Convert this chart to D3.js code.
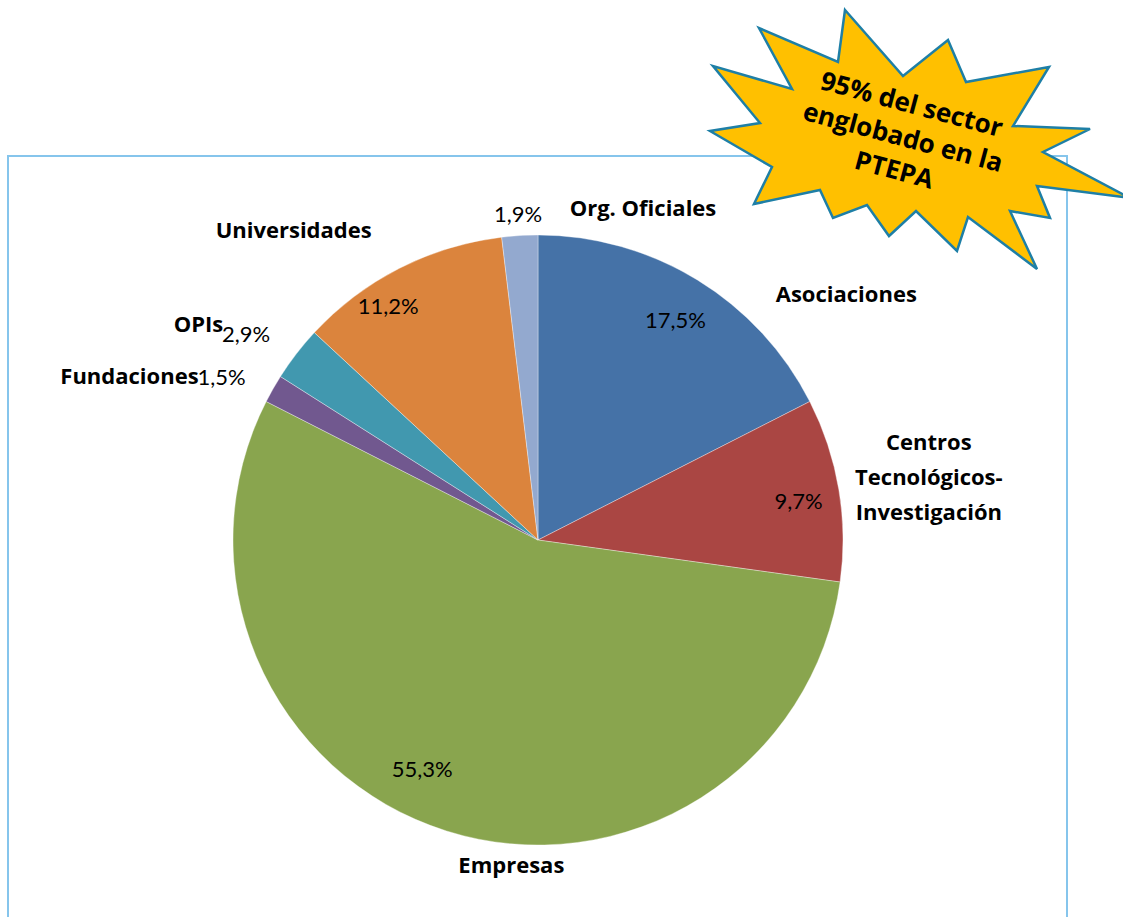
<!DOCTYPE html>
<html>
  <head>
    <meta charset="utf-8">
    <script src="https://cdn.jsdelivr.net/npm/d3@7/dist/d3.min.js"></script>
    <style>
      body { margin: 0; background: #fff; }
      text { font-family: Lato, "Open Sans", sans-serif; }
      text.name, text.star { font-family: "Open Sans", Lato, sans-serif; }
    </style>
  </head>
  <body>
    <svg id="chart" width="1123" height="917"></svg>
    <script>
      // data
      var categories = ["Asociaciones", "Centros Tecnológicos-Investigación", "Empresas",
                        "Fundaciones", "OPIs", "Universidades", "Org. Oficiales"];
      var values = [17.5, 9.7, 55.3, 1.5, 2.9, 11.2, 1.9];
      var nameLines = [["Asociaciones"], ["Centros", "Tecnológicos-", "Investigación"], ["Empresas"],
                       ["Fundaciones"], ["OPIs"], ["Universidades"], ["Org. Oficiales"]];
      var colors = ["#4572A7", "#AA4643", "#89A54E", "#71588F", "#4198AF", "#DB843D", "#93A9CF"];
      var starLines = ["95% del sector", "englobado en la", "PTEPA"];

      // label placement (Excel-like), nudges from the arc anchors
      var pctInside = [true, true, true, false, false, true, false];
      var pctNudge = [[2, 1], [5, 4], [-38, -18], [-25, 4], [-26, -1], [-32, -3], [0, 9]];
      var nameNudge = [[133, 40], [60, -7], [74, 5], [-48, 3], [-49, -11], [-92, -11], [125, 3]];
      var nameAnchor = ["middle", "middle", "middle", "end", "end", "middle", "middle"];

      var svg = d3.select("#chart");
      var cx = 538, cy = 540, R = 305;

      var data = categories.map((c, i) => ({name: c, value: values[i], i: i}));
      var color = d3.scaleOrdinal().domain(categories).range(colors);

      var pie = d3.pie().sort(null).value(d => d.value);
      var arcs = pie(data);
      var arc = d3.arc().innerRadius(0).outerRadius(R);
      var inArc = d3.arc().innerRadius(R * 0.85).outerRadius(R * 0.85);
      var outArc = d3.arc().innerRadius(R * 1.1).outerRadius(R * 1.1);

      // chart area border
      svg.append("rect")
        .attr("x", 8).attr("y", 156).attr("width", 1059).attr("height", 800)
        .attr("fill", "none").attr("stroke", "#86C5EC").attr("stroke-width", 2);

      var g = svg.append("g").attr("transform", `translate(${cx},${cy})`);

      g.selectAll("path.slice").data(arcs).enter().append("path")
        .attr("class", "slice")
        .attr("d", arc)
        .attr("fill", d => color(d.data.name))
        .attr("stroke", "#ffffff").attr("stroke-opacity", 0.5).attr("stroke-width", 0.7);

      // percentage labels
      g.selectAll("text.pct").data(arcs).enter().append("text")
        .attr("class", "pct")
        .attr("transform", d => {
          var p = (pctInside[d.data.i] ? inArc : outArc).centroid(d);
          var n = pctNudge[d.data.i];
          return `translate(${p[0] + n[0]},${p[1] + n[1]})`;
        })
        .attr("text-anchor", d => nameAnchor[d.data.i] == "end" ? "start" : "middle")
        .attr("dx", d => nameAnchor[d.data.i] == "end" ? "-1.1em" : 0)
        .attr("dy", "0.35em")
        .attr("font-size", 22)
        .attr("fill", "#000")
        .text(d => d3.format(".1f")(d.data.value).replace(".", ",") + "%");

      // category labels
      var names = g.selectAll("text.name").data(arcs).enter().append("text")
        .attr("class", "name")
        .attr("transform", d => {
          var p = outArc.centroid(d);
          var n = nameNudge[d.data.i];
          return `translate(${p[0] + n[0]},${p[1] + n[1]})`;
        })
        .attr("text-anchor", d => nameAnchor[d.data.i])
        .attr("font-size", 22)
        .attr("font-weight", "bold")
        .attr("fill", "#000");

      names.each(function(d) {
        var lines = nameLines[d.data.i];
        var t = d3.select(this);
        lines.forEach((s, k) => {
          t.append("tspan").attr("x", 0)
            .attr("y", (k - (lines.length - 1) / 2) * 35)
            .attr("dy", "0.35em")
            .text(s);
        });
      });

      // starburst callout
      var star = [[845, 10], [903, 76], [948, 40], [966, 82], [1049, 67], [1013, 126], [1090, 129],
                  [1043, 152], [1130, 198], [1037, 186], [1050, 218], [1010, 211], [1037, 269],
                  [968, 217], [957, 251], [916, 211], [889, 236], [867, 205], [833, 218], [820, 190],
                  [754, 204], [772, 167], [710, 131], [760, 123], [713, 66], [792, 89], [759, 28], [838, 62]];

      svg.append("path")
        .attr("d", d3.line()(star) + "Z")
        .attr("fill", "#FFC000")
        .attr("stroke", "#1E7FA6")
        .attr("stroke-width", 2.5)
        .attr("stroke-linejoin", "miter");

      var st = svg.append("text")
        .attr("class", "star")
        .attr("transform", "translate(903,137) rotate(15)")
        .attr("text-anchor", "middle")
        .attr("font-size", 26)
        .attr("font-weight", "bold")
        .attr("fill", "#000");

      starLines.forEach((s, k) => {
        st.append("tspan").attr("x", 0).attr("y", (k - 1) * 34).attr("dy", "0.35em").text(s);
      });
    </script>
  </body>
</html>
